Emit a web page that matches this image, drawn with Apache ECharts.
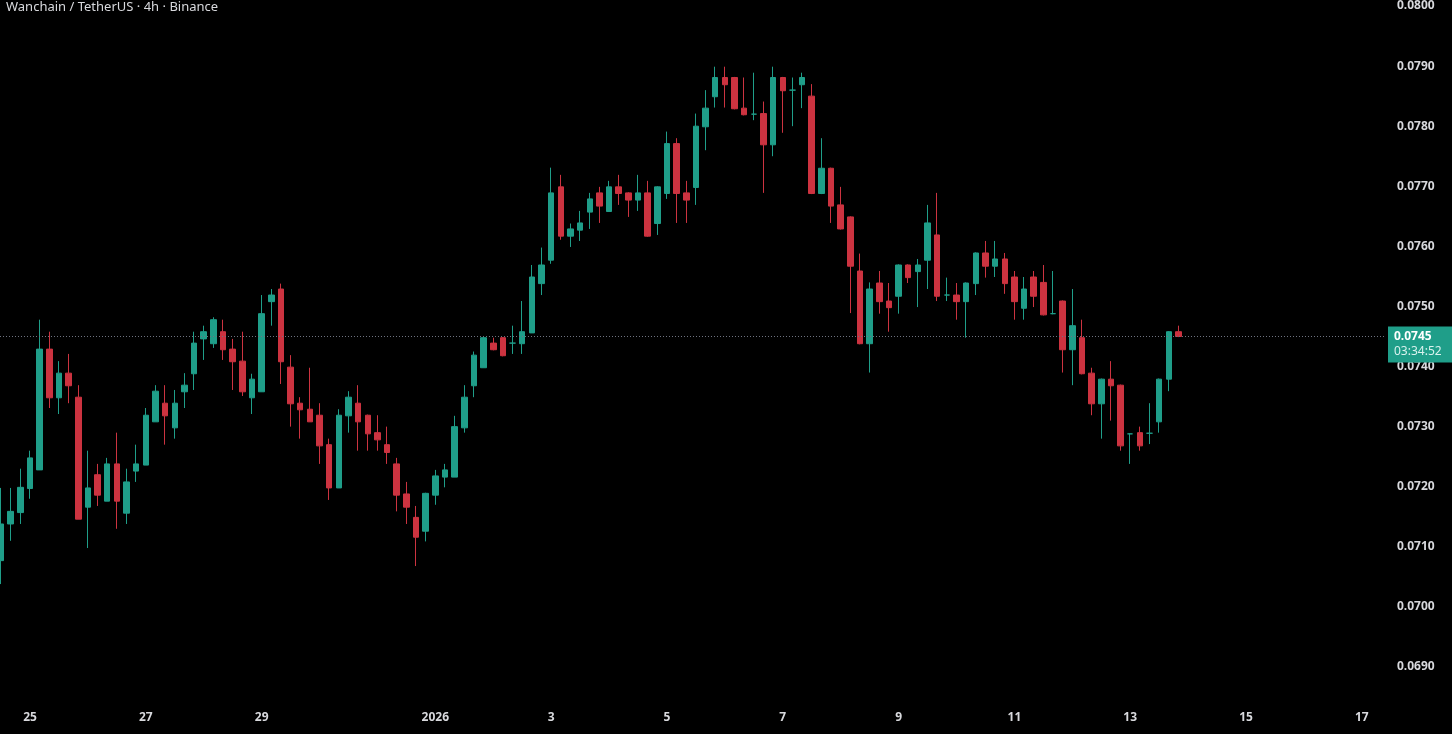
<!DOCTYPE html>
<html>
<head>
<meta charset="utf-8">
<title>Wanchain / TetherUS 4h</title>
<script src="https://cdn.jsdelivr.net/npm/echarts@6/dist/echarts.min.js"></script>
<style>
  html, body { margin: 0; padding: 0; background: #000; }
  #main { width: 1452px; height: 734px; }
</style>
</head>
<body>
<div id="main"></div>
<script>
// 4h candles, first one is Dec 24 12:00 (index -3, index 0 = Dec 25 00:00)
const startIdx = -3;
const opens = [
  0.07077, 0.07138, 0.07157, 0.07197, 0.07228, 0.07429, 0.07348, 0.07389, 0.07349, 0.07166,
  0.07220, 0.07176, 0.07238, 0.07156, 0.07226, 0.07236, 0.07308, 0.07339, 0.07298, 0.07358,
  0.07388, 0.07446, 0.07438, 0.07458, 0.07429, 0.07409, 0.07348, 0.07358, 0.07508, 0.07529,
  0.07399, 0.07339, 0.07329, 0.07319, 0.07270, 0.07198, 0.07318, 0.07339, 0.07319, 0.07290,
  0.07270, 0.07238, 0.07188, 0.07149, 0.07126, 0.07186, 0.07216, 0.07216, 0.07298, 0.07368,
  0.07398, 0.07439, 0.07448, 0.07439, 0.07438, 0.07456, 0.07538, 0.07577, 0.07699, 0.07617,
  0.07627, 0.07657, 0.07689, 0.07658, 0.07699, 0.07689, 0.07677, 0.07689, 0.07638, 0.07688,
  0.07771, 0.07689, 0.07698, 0.07799, 0.07849, 0.07881, 0.07881, 0.07830, 0.07820, 0.07821,
  0.07769, 0.07881, 0.07860, 0.07869, 0.07850, 0.07688, 0.07730, 0.07669, 0.07649, 0.07559,
  0.07438, 0.07539, 0.07509, 0.07517, 0.07569, 0.07558, 0.07577, 0.07619, 0.07519, 0.07519,
  0.07508, 0.07538, 0.07589, 0.07567, 0.07579, 0.07549, 0.07497, 0.07549, 0.07540, 0.07488,
  0.07509, 0.07428, 0.07448, 0.07389, 0.07338, 0.07379, 0.07369, 0.07288, 0.07290, 0.07289,
  0.07308, 0.07379, 0.07458
];
const closes = [
  0.07138, 0.07159, 0.07199, 0.07248, 0.07429, 0.07348, 0.07389, 0.07368, 0.07146, 0.07198,
  0.07186, 0.07238, 0.07176, 0.07208, 0.07238, 0.07319, 0.07359, 0.07318, 0.07339, 0.07369,
  0.07439, 0.07458, 0.07478, 0.07428, 0.07408, 0.07358, 0.07379, 0.07488, 0.07519, 0.07408,
  0.07338, 0.07328, 0.07308, 0.07268, 0.07198, 0.07319, 0.07349, 0.07308, 0.07288, 0.07278,
  0.07257, 0.07186, 0.07166, 0.07116, 0.07189, 0.07218, 0.07228, 0.07300, 0.07349, 0.07419,
  0.07448, 0.07428, 0.07418, 0.07439, 0.07458, 0.07549, 0.07569, 0.07689, 0.07617, 0.07629,
  0.07639, 0.07679, 0.07667, 0.07699, 0.07688, 0.07677, 0.07689, 0.07617, 0.07699, 0.07771,
  0.07688, 0.07677, 0.07800, 0.07830, 0.07881, 0.07869, 0.07829, 0.07819, 0.07820, 0.07769,
  0.07881, 0.07859, 0.07860, 0.07881, 0.07688, 0.07730, 0.07667, 0.07629, 0.07567, 0.07438,
  0.07529, 0.07508, 0.07498, 0.07569, 0.07548, 0.07569, 0.07639, 0.07517, 0.07519, 0.07508,
  0.07539, 0.07589, 0.07567, 0.07579, 0.07538, 0.07508, 0.07529, 0.07517, 0.07486, 0.07488,
  0.07428, 0.07468, 0.07388, 0.07338, 0.07379, 0.07368, 0.07268, 0.07288, 0.07268, 0.07289,
  0.07379, 0.07458, 0.07450
];
const lows = [
  0.07038, 0.07110, 0.07138, 0.07180, 0.07228, 0.07331, 0.07321, 0.07339, 0.07146, 0.07098,
  0.07168, 0.07176, 0.07130, 0.07138, 0.07208, 0.07236, 0.07308, 0.07270, 0.07280, 0.07331,
  0.07361, 0.07411, 0.07431, 0.07411, 0.07361, 0.07351, 0.07321, 0.07358, 0.07468, 0.07371,
  0.07300, 0.07280, 0.07308, 0.07238, 0.07178, 0.07198, 0.07290, 0.07260, 0.07260, 0.07260,
  0.07238, 0.07159, 0.07138, 0.07068, 0.07109, 0.07170, 0.07199, 0.07216, 0.07290, 0.07349,
  0.07398, 0.07427, 0.07417, 0.07421, 0.07421, 0.07456, 0.07519, 0.07571, 0.07611, 0.07599,
  0.07609, 0.07629, 0.07639, 0.07658, 0.07669, 0.07649, 0.07659, 0.07616, 0.07619, 0.07679,
  0.07639, 0.07639, 0.07669, 0.07760, 0.07831, 0.07831, 0.07828, 0.07818, 0.07810, 0.07689,
  0.07750, 0.07789, 0.07800, 0.07830, 0.07687, 0.07687, 0.07639, 0.07628, 0.07489, 0.07437,
  0.07390, 0.07488, 0.07458, 0.07488, 0.07539, 0.07499, 0.07529, 0.07509, 0.07509, 0.07478,
  0.07448, 0.07519, 0.07548, 0.07549, 0.07521, 0.07478, 0.07478, 0.07499, 0.07485, 0.07487,
  0.07390, 0.07369, 0.07387, 0.07319, 0.07280, 0.07310, 0.07260, 0.07238, 0.07260, 0.07271,
  0.07290, 0.07359, 0.07449
];
const highs = [
  0.07198, 0.07198, 0.07230, 0.07260, 0.07478, 0.07458, 0.07409, 0.07421, 0.07369, 0.07260,
  0.07238, 0.07248, 0.07290, 0.07230, 0.07270, 0.07331, 0.07369, 0.07369, 0.07361, 0.07389,
  0.07458, 0.07468, 0.07482, 0.07478, 0.07446, 0.07458, 0.07388, 0.07519, 0.07529, 0.07538,
  0.07419, 0.07349, 0.07398, 0.07339, 0.07280, 0.07329, 0.07359, 0.07369, 0.07320, 0.07319,
  0.07300, 0.07248, 0.07208, 0.07168, 0.07190, 0.07228, 0.07238, 0.07318, 0.07369, 0.07425,
  0.07450, 0.07448, 0.07449, 0.07468, 0.07509, 0.07569, 0.07598, 0.07731, 0.07719, 0.07638,
  0.07659, 0.07689, 0.07699, 0.07709, 0.07719, 0.07690, 0.07719, 0.07709, 0.07700, 0.07791,
  0.07780, 0.07709, 0.07821, 0.07860, 0.07899, 0.07899, 0.07882, 0.07881, 0.07889, 0.07841,
  0.07899, 0.07882, 0.07881, 0.07889, 0.07870, 0.07780, 0.07731, 0.07699, 0.07650, 0.07588,
  0.07540, 0.07559, 0.07539, 0.07570, 0.07570, 0.07579, 0.07669, 0.07689, 0.07548, 0.07539,
  0.07540, 0.07590, 0.07609, 0.07609, 0.07589, 0.07559, 0.07549, 0.07559, 0.07569, 0.07559,
  0.07510, 0.07529, 0.07478, 0.07398, 0.07380, 0.07409, 0.07370, 0.07289, 0.07300, 0.07339,
  0.07380, 0.07459, 0.07468
];

// x-axis date labels (candle index of 00:00 of that day)
const tickIdx = [0, 12, 24, 42, 54, 66, 78, 90, 102, 114, 126, 138];
const tickLabels = ['25', '27', '29', '2026', '3', '5', '7', '9', '11', '13', '15', '17'];

const priceTimer = '03:34:52';
const upColor = '#1f9e89';
const downColor = '#cc3340';
const textColor = '#d8d9dd';
const fontFamily = '"Noto Sans", "Open Sans", sans-serif';
const xMin = -3.11;
const xMax = 140.4;

const candles = opens.map((o, i) => [startIdx + i, o, closes[i], lows[i], highs[i]]);
const lastClose = closes[closes.length - 1];

const myChart = echarts.init(document.getElementById('main'));
myChart.setOption({
  backgroundColor: '#000',
  animation: false,
  title: {
    text: 'Wanchain / TetherUS · 4h · Binance',
    left: 1,
    top: -4,
    textStyle: { color: textColor, fontSize: 13, fontWeight: 'normal', fontFamily: fontFamily }
  },
  grid: { left: 0, right: 67, top: 6, bottom: 67 },
  xAxis: {
    type: 'value',
    min: xMin,
    max: xMax,
    axisLine: { show: false },
    axisTick: { show: false },
    splitLine: { show: false },
    axisLabel: {
      customValues: tickIdx,
      margin: 45,
      color: textColor,
      fontSize: 12,
      fontWeight: 'bold',
      fontFamily: fontFamily,
      formatter: v => tickLabels[tickIdx.indexOf(v)] || ''
    }
  },
  yAxis: {
    type: 'value',
    position: 'right',
    min: 0.069,
    max: 0.080,
    interval: 0.001,
    axisLine: { show: false },
    axisTick: { show: false },
    splitLine: { show: false },
    axisLabel: {
      margin: 12,
      color: textColor,
      fontSize: 12,
      fontWeight: 'bold',
      fontFamily: fontFamily,
      formatter: v => v.toFixed(4)
    }
  },
  series: [{
    type: 'candlestick',
    data: candles,
    encode: { x: 0, y: [1, 2, 3, 4] },
    barWidth: 6,
    itemStyle: {
      color: upColor,
      color0: downColor,
      borderColor: upColor,
      borderColor0: downColor,
      borderColorDoji: upColor,
      borderWidth: 1
    },
    markLine: {
      silent: true,
      symbol: 'none',
      data: [[{ coord: [xMin, lastClose] }, { coord: [xMax, lastClose] }]],
      lineStyle: { color: '#6f7380', type: [1, 2], width: 1 },
      label: {
        position: 'end',
        distance: 3,
        offset: [0, 8],
        backgroundColor: upColor,
        padding: [3, 11, 3, 6],
        fontFamily: fontFamily,
        formatter: () => '{p|' + lastClose.toFixed(4) + '}\n{t|' + priceTimer + '}',
        rich: {
          p: { color: '#ffffff', fontSize: 12, fontWeight: 'bold', lineHeight: 15, fontFamily: fontFamily },
          t: { color: '#d9f2ee', fontSize: 12, lineHeight: 15, fontFamily: fontFamily }
        }
      }
    }
  }]
});
</script>
</body>
</html>
